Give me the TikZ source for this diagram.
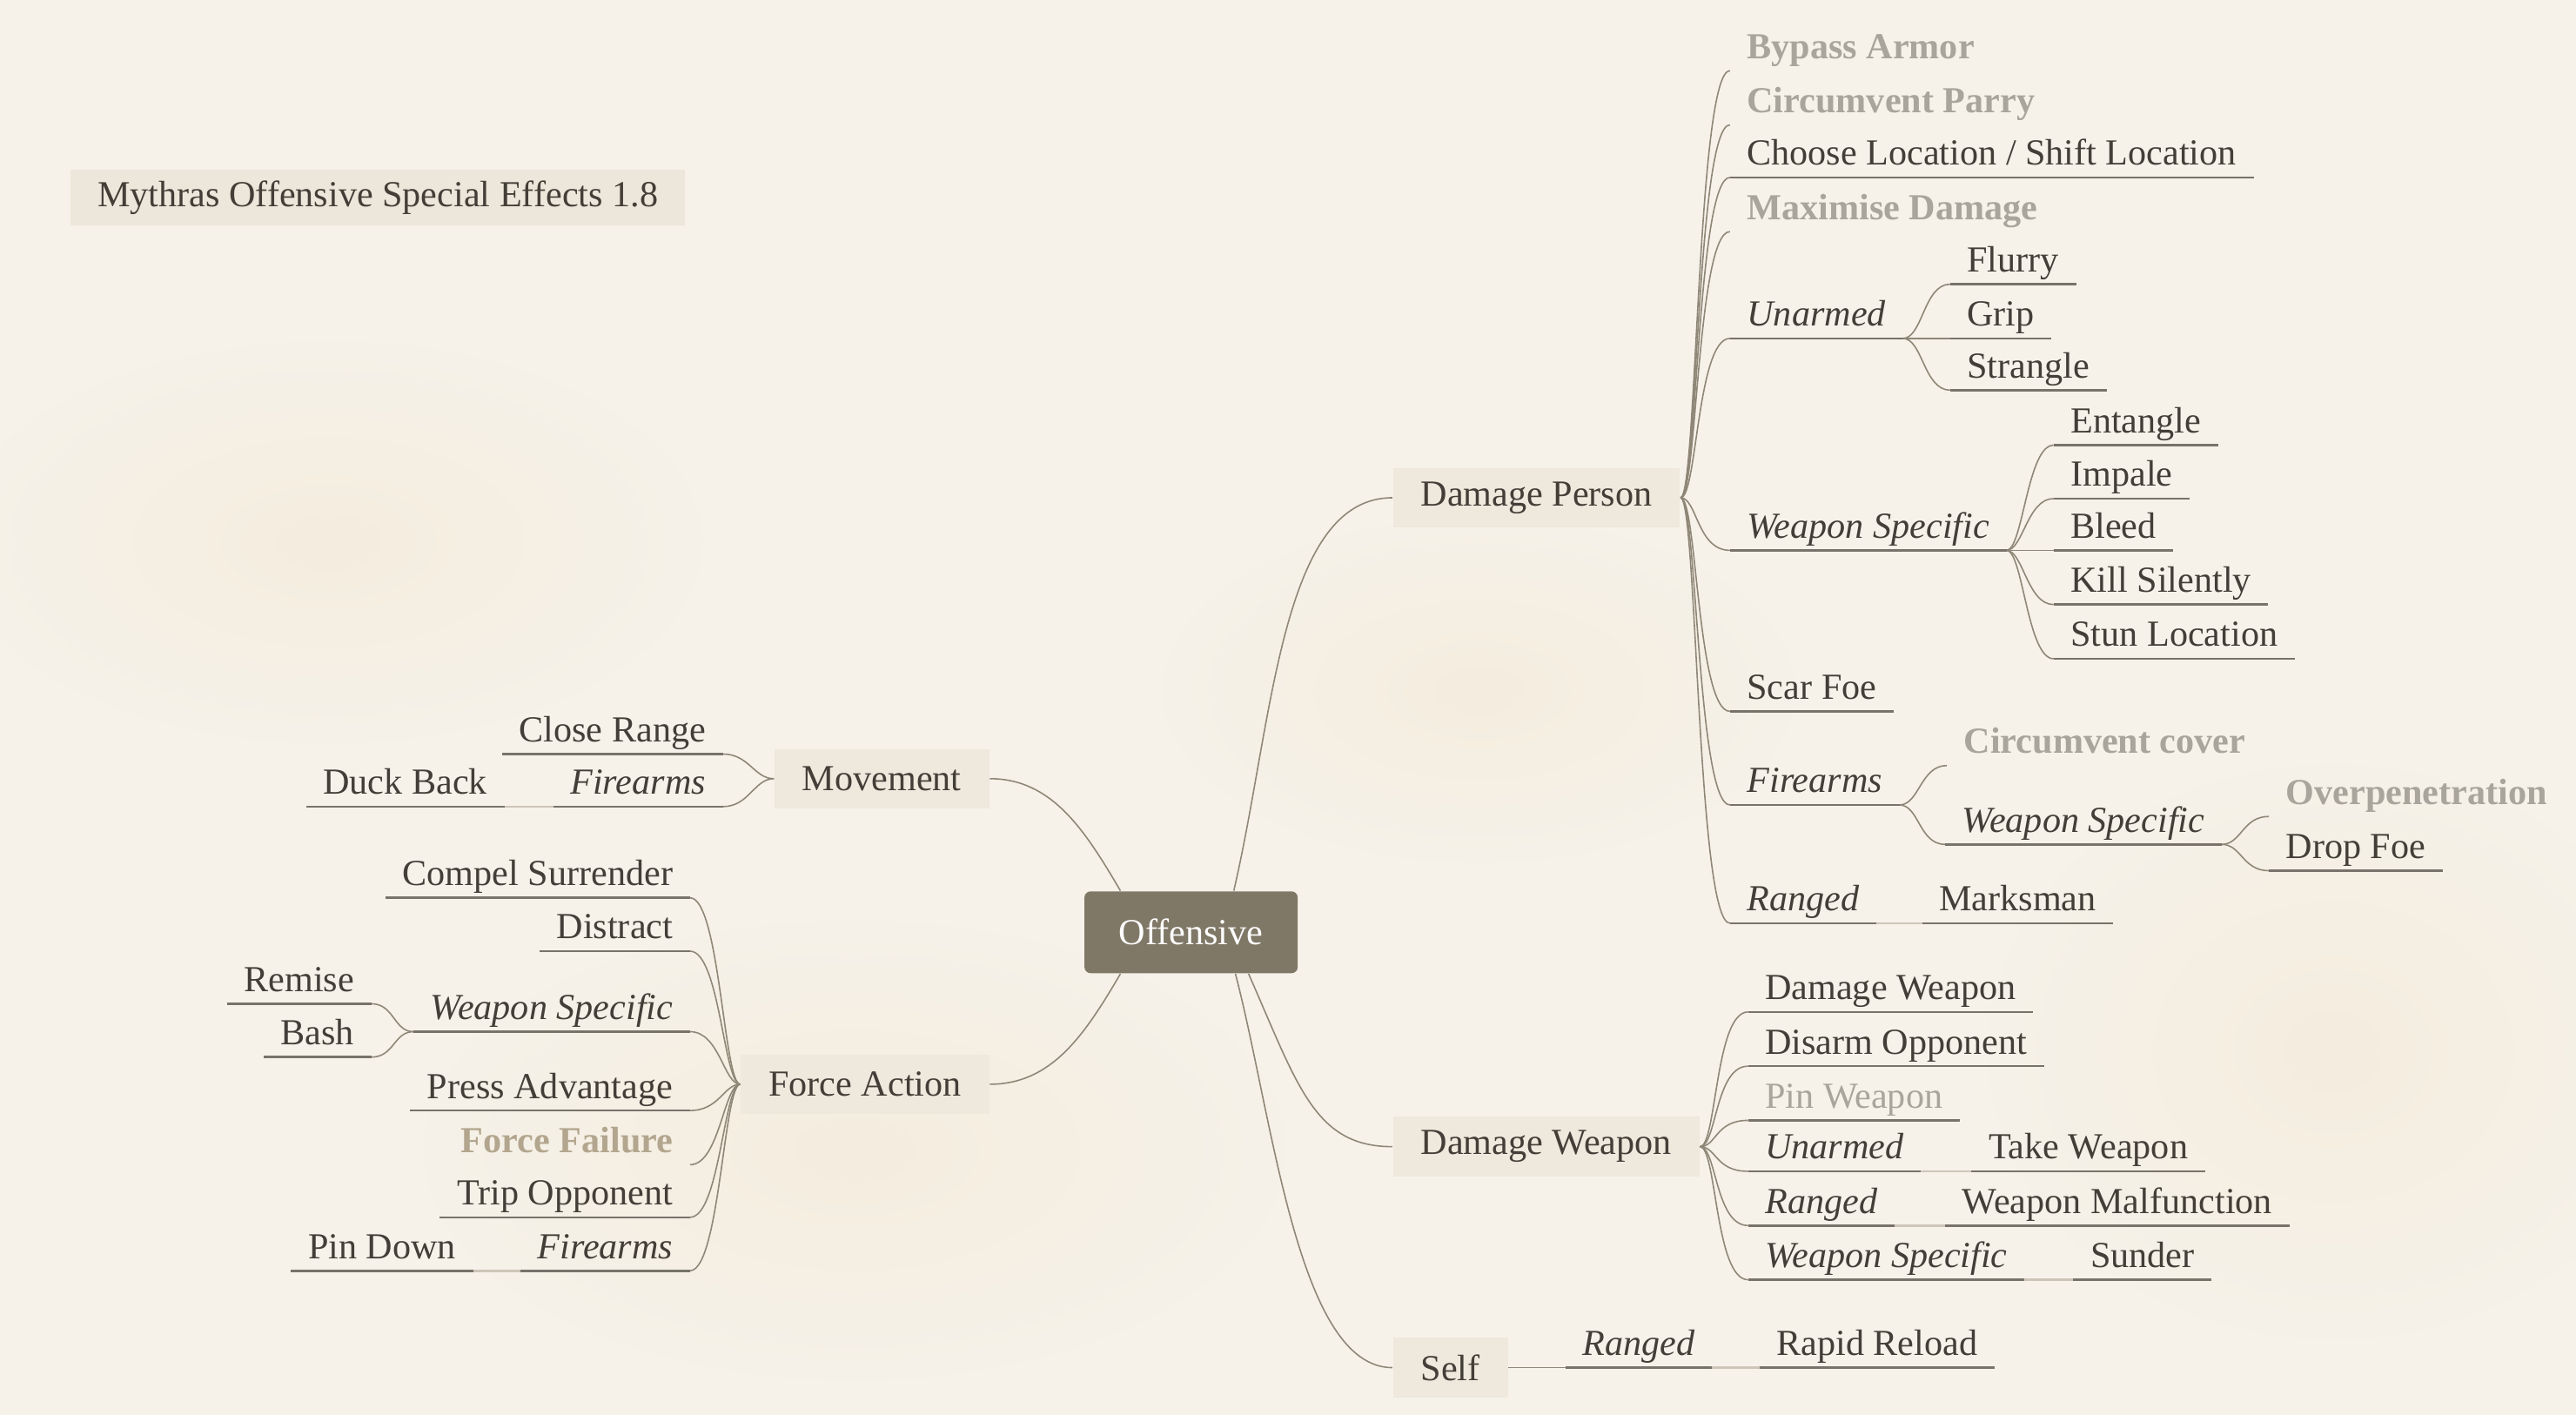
\documentclass[tikz,border=0pt]{standalone}
\usepackage{fontspec}
\setmainfont{Liberation Serif}
\definecolor{paper}{HTML}{F6F2EA}
\definecolor{warm}{HTML}{F4ECDE}
\definecolor{ink}{HTML}{433E37}
\definecolor{dimink}{HTML}{A9A59D}
\definecolor{failink}{HTML}{B3A68E}
\definecolor{twig}{HTML}{8E8676}
\definecolor{rule}{HTML}{77736B}
\definecolor{faint}{HTML}{CDC6B8}
\definecolor{rootfill}{HTML}{807867}
\definecolor{catfill}{HTML}{EEE8DD}
\definecolor{titlefill}{HTML}{EDE6DA}
\newcommand\mapsize{\fontsize{12}{14}\selectfont}

\begin{document}
\begin{tikzpicture}[x=0.018878cm,y=-0.018878cm,font=\mapsize,
  every node/.style={text=ink},
  root/.style={fill=rootfill,rounded corners=2pt,minimum width=2.45cm,
    minimum height=0.94cm,text=white!95!paper},
  cat/.style={fill=catfill,inner xsep=9.1pt,minimum height=19.5pt},
  titlebox/.style={fill=titlefill,minimum width=7.06cm,minimum height=0.64cm},
  leaf/.style={inner xsep=5.4pt,inner ysep=3.8pt,text depth=0pt},
  rleaf/.style={leaf,anchor=south west},
  lleaf/.style={leaf,anchor=south east},
  grp/.style={font=\mapsize\itshape},
  dim/.style={font=\mapsize\bfseries,text=dimink},
  branch/.style={draw=twig,line width=0.45pt},
  uline/.style={draw=rule,line width=0.75pt},
  link/.style={draw=faint,line width=0.75pt}]
  \useasboundingbox (0,0) rectangle (1568,861.3);
  \fill[paper] (0,0) rectangle (1568,861.3);
  % warm patches on the paper
  \shade[inner color=warm,outer color=paper] (200,330) ellipse (260 and 140);
  \shade[inner color=warm,outer color=paper] (520,700) ellipse (300 and 160);
  \shade[inner color=warm,outer color=paper] (1420,640) ellipse (240 and 200);
  \shade[inner color=warm,outer color=paper] (900,420) ellipse (220 and 120);

  \node[titlebox] (title) at (230,120.5) {Mythras Offensive Special Effects 1.8};

  % centre and main branches
  \node[root] (off) at (725,567.5) {Offensive};
  \node[cat,anchor=west] (dp) at (847.5,303) {Damage Person};
  \node[cat,anchor=west] (dw) at (847.5,698) {Damage Weapon};
  \node[cat,anchor=west] (self) at (847.5,832.5) {Self};
  \node[cat,anchor=east] (mv) at (602.5,474) {Movement};
  \node[cat,anchor=east] (fa) at (602.5,660) {Force Action};

  % Damage Person
  \node[rleaf,dim] (bypass) at (1053,43) {Bypass Armor};
  \node[rleaf,dim] (cparry) at (1053,76) {Circumvent Parry};
  \node[rleaf] (choose) at (1053,108) {Choose Location / Shift Location};
  \node[rleaf,dim] (maxdmg) at (1053,141) {Maximise Damage};
  \node[rleaf,grp] (unarm) at (1053,206) {Unarmed};
  \node[rleaf] (flurry) at (1187,173) {Flurry};
  \node[rleaf] (grip) at (1187,206) {Grip};
  \node[rleaf] (strangle) at (1187,237.5) {Strangle};
  \node[rleaf,grp] (wspec) at (1053,335) {Weapon Specific};
  \node[rleaf] (entangle) at (1250,271) {Entangle};
  \node[rleaf] (impale) at (1250,303.5) {Impale};
  \node[rleaf] (bleed) at (1250,335) {Bleed};
  \node[rleaf] (killsil) at (1250,368) {Kill Silently};
  \node[rleaf] (stun) at (1250,401) {Stun Location};
  \node[rleaf] (scar) at (1053,433) {Scar Foe};
  \node[rleaf,grp] (fire) at (1053,490) {Firearms};
  \node[rleaf,dim] (ccover) at (1185,466) {Circumvent cover};
  \node[rleaf,grp] (fwspec) at (1184,514) {Weapon Specific};
  \node[rleaf,dim] (overpen) at (1381,497) {Overpenetration};
  \node[rleaf] (dropfoe) at (1381,530) {Drop Foe};
  \node[rleaf,grp] (ranged) at (1053,562) {Ranged};
  \node[rleaf] (marks) at (1170,562) {Marksman};

  % Damage Weapon
  \node[rleaf] (dwdmg) at (1064,616) {Damage Weapon};
  \node[rleaf] (disarm) at (1064,649) {Disarm Opponent};
  \node[rleaf,text=dimink] (pinw) at (1064,682) {Pin Weapon};
  \node[rleaf,grp] (dwunarm) at (1064,713) {Unarmed};
  \node[rleaf] (take) at (1200,713) {Take Weapon};
  \node[rleaf,grp] (dwranged) at (1064,746) {Ranged};
  \node[rleaf] (malf) at (1184,746) {Weapon Malfunction};
  \node[rleaf,grp] (dwwspec) at (1064,779) {Weapon Specific};
  \node[rleaf] (sunder) at (1262,779) {Sunder};

  % Self
  \node[rleaf,grp] (selfranged) at (953,832.5) {Ranged};
  \node[rleaf] (rapid) at (1071,832.5) {Rapid Reload};

  % Movement
  \node[lleaf] (closer) at (440,459) {Close Range};
  \node[lleaf,grp] (mvfire) at (440,491) {Firearms};
  \node[lleaf] (duck) at (307,491) {Duck Back};

  % Force Action
  \node[lleaf] (compel) at (420,546.5) {Compel Surrender};
  \node[lleaf] (distract) at (420,579) {Distract};
  \node[lleaf,grp] (fawspec) at (420,628) {Weapon Specific};
  \node[lleaf] (remise) at (226,611) {Remise};
  \node[lleaf] (bash) at (226,643.5) {Bash};
  \node[lleaf] (press) at (420,676) {Press Advantage};
  \node[lleaf,dim,text=failink] (ffail) at (420,709) {Force Failure};
  \node[lleaf] (trip) at (420,741) {Trip Opponent};
  \node[lleaf,grp] (fafire) at (420,773.5) {Firearms};
  \node[lleaf] (pindown) at (288,773.5) {Pin Down};

  % connectors from the centre
  \draw[branch] (off.north) ++(26,0) .. controls +(24,-103) and +(-68,0) .. (dp.west);
  \draw[branch] (off.south) ++(35,0) .. controls +(30,68) and +(-47.5,0) .. (dw.west);
  \draw[branch] (off.south) ++(27,0) .. controls +(23,88) and +(-57.5,0) .. (self.west);
  \draw[branch] (off.north) ++(-43,0) .. controls +(-22,-37.6) and +(37.5,0) .. (mv.east);
  \draw[branch] (off.south) ++(-43,0) .. controls +(-22,37.6) and +(37.5,0) .. (fa.east);

  % forks to the right
  \foreach \c in {bypass,cparry,choose,maxdmg,unarm,wspec,scar,fire,ranged}
    \draw[branch] (dp.east) .. controls +(10,0) and +(-20,0) .. (\c.south west);
  \foreach \c in {flurry,grip,strangle}
    \draw[branch] (unarm.south east) .. controls +(12,0) and +(-16,0) .. (\c.south west);
  \foreach \c in {entangle,impale,bleed,killsil,stun}
    \draw[branch] (wspec.south east) .. controls +(10,0) and +(-16,0) .. (\c.south west);
  \foreach \c in {ccover,fwspec}
    \draw[branch] (fire.south east) .. controls +(12,0) and +(-16,0) .. (\c.south west);
  \foreach \c in {overpen,dropfoe}
    \draw[branch] (fwspec.south east) .. controls +(12,0) and +(-16,0) .. (\c.south west);
  \foreach \c in {dwdmg,disarm,pinw,dwunarm,dwranged,dwwspec}
    \draw[branch] (dw.east) .. controls +(10,0) and +(-20,0) .. (\c.south west);
  \draw[branch] (self.east) -- (selfranged.south west);

  % forks to the left
  \foreach \c in {closer,mvfire}
    \draw[branch] (mv.west) .. controls +(-12,0) and +(16,0) .. (\c.south east);
  \foreach \c in {compel,distract,fawspec,press,ffail,trip,fafire}
    \draw[branch] (fa.west) .. controls +(-10,0) and +(18,0) .. (\c.south east);
  \foreach \c in {remise,bash}
    \draw[branch] (fawspec.south west) .. controls +(-12,0) and +(14,0) .. (\c.south east);

  % single children on one line
  \foreach \a/\b in {ranged/marks,dwunarm/take,dwranged/malf,dwwspec/sunder,selfranged/rapid}
    \draw[link] (\a.south east) -- (\b.south west);
  \foreach \a/\b in {mvfire/duck,fafire/pindown}
    \draw[link] (\a.south west) -- (\b.south east);

  % underlines
  \foreach \n in {choose,unarm,flurry,grip,strangle,wspec,entangle,impale,bleed,
      killsil,stun,scar,fire,fwspec,dropfoe,ranged,marks,dwdmg,disarm,pinw,dwunarm,
      take,dwranged,malf,dwwspec,sunder,selfranged,rapid,closer,mvfire,duck,compel,
      distract,fawspec,remise,bash,press,trip,fafire,pindown}
    \draw[uline] (\n.south west) -- (\n.south east);
\end{tikzpicture}
\end{document}
